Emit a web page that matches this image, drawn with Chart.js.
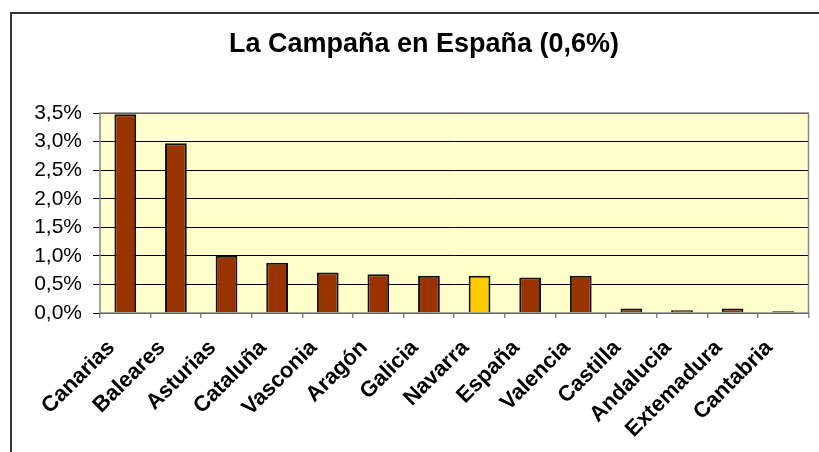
<!DOCTYPE html>
<html lang="es">

<head>
    <meta charset="UTF-8">
    <title>La Campaña en España</title>
    <style>
        html, body { margin: 0; padding: 0; background: #fff; overflow: hidden; }
        .wrap { position: relative; width: 819px; height: 452px; }
        .frame {
            position: absolute; left: 10px; top: 12px; width: 900px; height: 500px;
            border-left: 2px solid #333; border-top: 2px solid #333; pointer-events: none;
        }
    </style>
</head>

<body>
    <div class="wrap">
        <canvas id="chart" width="819" height="452"></canvas>
        <div class="frame"></div>
    </div>
</body>

<script src="https://cdn.jsdelivr.net/npm/chart.js"></script>
<script>
    const regions = ["Canarias", "Baleares", "Asturias", "Cataluña", "Vasconia", "Aragón", "Galicia",
        "Navarra", "España", "Valencia", "Castilla", "Andalucia", "Extemadura", "Cantabria"];
    const share = [3.48, 2.97, 1.00, 0.88, 0.71, 0.68, 0.65, 0.65, 0.62, 0.65, 0.08, 0.05, 0.08, 0.03];
    const highlight = "Navarra";
    const yMax = 3.5;
    const yStep = 0.5;

    // pale yellow plot area with a grey frame, like the old spreadsheet chart
    const plotBox = {
        id: 'plotBox',
        beforeDraw(chart) {
            const a = chart.chartArea, ctx = chart.ctx;
            ctx.save();
            ctx.fillStyle = '#FFFFCC';
            ctx.fillRect(a.left, a.top, a.right - a.left, a.bottom - a.top);
            ctx.restore();
        },
        afterDraw(chart) {
            const a = chart.chartArea, ctx = chart.ctx;
            ctx.save();
            ctx.strokeStyle = '#888';
            ctx.lineWidth = 1.5;
            ctx.strokeRect(a.left, a.top, a.right - a.left, a.bottom - a.top);
            ctx.restore();
        }
    };

    const ctx = document.getElementById('chart').getContext('2d');
    new Chart(ctx, {
        type: 'bar',
        data: {
            labels: regions,
            datasets: [{
                data: share,
                backgroundColor: regions.map(r => r === highlight ? '#FFCC00' : '#993300'),
                borderColor: '#111',
                borderWidth: 2,
                barPercentage: 0.43,
                categoryPercentage: 1
            }]
        },
        options: {
            responsive: false,
            animation: false,
            layout: { padding: { left: 33, right: 4, top: 0, bottom: 0 } },
            plugins: {
                legend: { display: false },
                tooltip: { enabled: false },
                title: {
                    display: true,
                    text: 'La Campaña en España (0,6%)',
                    color: '#000',
                    font: { family: 'Liberation Sans, Arial, sans-serif', size: 27, weight: 'bold' },
                    padding: { top: 28, bottom: 52.6 }
                }
            },
            scales: {
                x: {
                    afterFit(scale) { scale.height = 139; },
                    border: { display: false },
                    grid: { display: true, offset: true, drawOnChartArea: false, tickLength: 5, color: '#888', lineWidth: 1.5 },
                    ticks: {
                        minRotation: 45, maxRotation: 45, autoSkip: false,
                        labelOffset: -14, padding: 17,
                        color: '#000',
                        font: { family: 'Liberation Sans, Arial, sans-serif', size: 22, weight: 'bold' }
                    }
                },
                y: {
                    min: 0, max: yMax,
                    afterFit(scale) { scale.width = 67; },
                    border: { display: false },
                    grid: { color: '#000', lineWidth: 1, tickLength: 7 },
                    ticks: {
                        stepSize: yStep, padding: 11, color: '#000',
                        font: { family: 'Liberation Sans, Arial, sans-serif', size: 21 },
                        callback: v => v.toFixed(1).replace('.', ',') + '%'
                    }
                }
            }
        },
        plugins: [plotBox]
    });
</script>

</html>
